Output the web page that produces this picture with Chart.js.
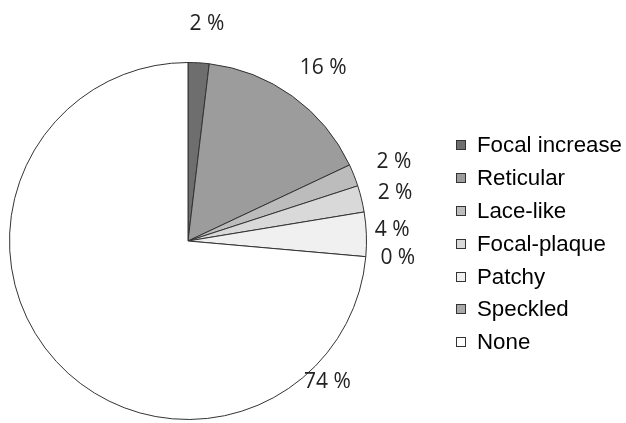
<!DOCTYPE html>
<html>
<head>
<meta charset="utf-8">
<script src="https://cdn.jsdelivr.net/npm/chart.js@4.4.1/dist/chart.umd.min.js"></script>
<style>
  html, body { margin: 0; padding: 0; background: #fff; }
  #wrap { position: relative; width: 626px; height: 423px; }
  #legend { position: absolute; left: 456px; top: 129px; font-family: "Liberation Sans", Arial, sans-serif; font-size: 22.3px; color: #000; }
  .row { height: 32.8px; display: flex; align-items: center; }
  .box { width: 8px; height: 8px; border: 1.5px solid #333; margin-right: 11px; flex: none; }
</style>
</head>
<body>
<div id="wrap">
  <canvas id="pie" width="626" height="423"></canvas>
  <div id="legend"></div>
</div>
<script>
// pattern categories and share of cases (%)
let categories = ["Focal increase", "Reticular", "Lace-like", "Focal-plaque", "Patchy", "Speckled", "None"]
let shares = [1.9, 16.1, 2.0, 2.4, 4.0, 0, 73.6]
let fills = ["#6e6e6e", "#9c9c9c", "#bcbcbc", "#d9d9d9", "#f0f0f0", "#a9a9a9", "#ffffff"]

// legend built from the same arrays
const legendDiv = document.querySelector("#legend")
categories.forEach((c, i) => {
    let row = document.createElement("div")
    row.className = "row"
    row.innerHTML = '<span class="box" style="background:' + fills[i] + '"></span><span>' + c + '</span>'
    legendDiv.appendChild(row)
})

// percentage labels drawn outside each slice
const outsideLabels = {
    id: "outsideLabels",
    afterDatasetsDraw(chart, args, opts) {
        const ctx = chart.ctx
        const meta = chart.getDatasetMeta(0)
        ctx.save()
        ctx.font = "21px 'Open Sans', sans-serif"
        ctx.fillStyle = "#222"
        ctx.textAlign = "center"
        ctx.textBaseline = "middle"
        meta.data.forEach((arc, i) => {
            let a = (arc.startAngle + arc.endAngle) / 2
            if (opts.angles[i] != null) a = opts.angles[i] * Math.PI / 180 - Math.PI / 2
            const r = arc.outerRadius + opts.dist[i]
            const x = arc.x + Math.cos(a) * r
            const y = arc.y + Math.sin(a) * r
            ctx.fillText(Math.round(shares[i]) + " %", x, y)
        })
        ctx.restore()
    }
}

new Chart("pie", {
    type: "pie",
    data: {
        labels: categories,
        datasets: [{
            data: shares,
            backgroundColor: fills,
            borderColor: "#333",
            borderWidth: 1
        }]
    },
    options: {
        responsive: false,
        animation: false,
        layout: { padding: { left: 9, top: 62, right: 259, bottom: 3 } },
        plugins: {
            legend: { display: false },
            tooltip: { enabled: false },
            outsideLabels: {
                dist: [39, 41, 42, 34, 26, 32, 20],
                angles: [5, 38, 69, 77, 87, 94.6, 135.4]
            }
        }
    },
    plugins: [outsideLabels]
})
</script>
</body>
</html>
